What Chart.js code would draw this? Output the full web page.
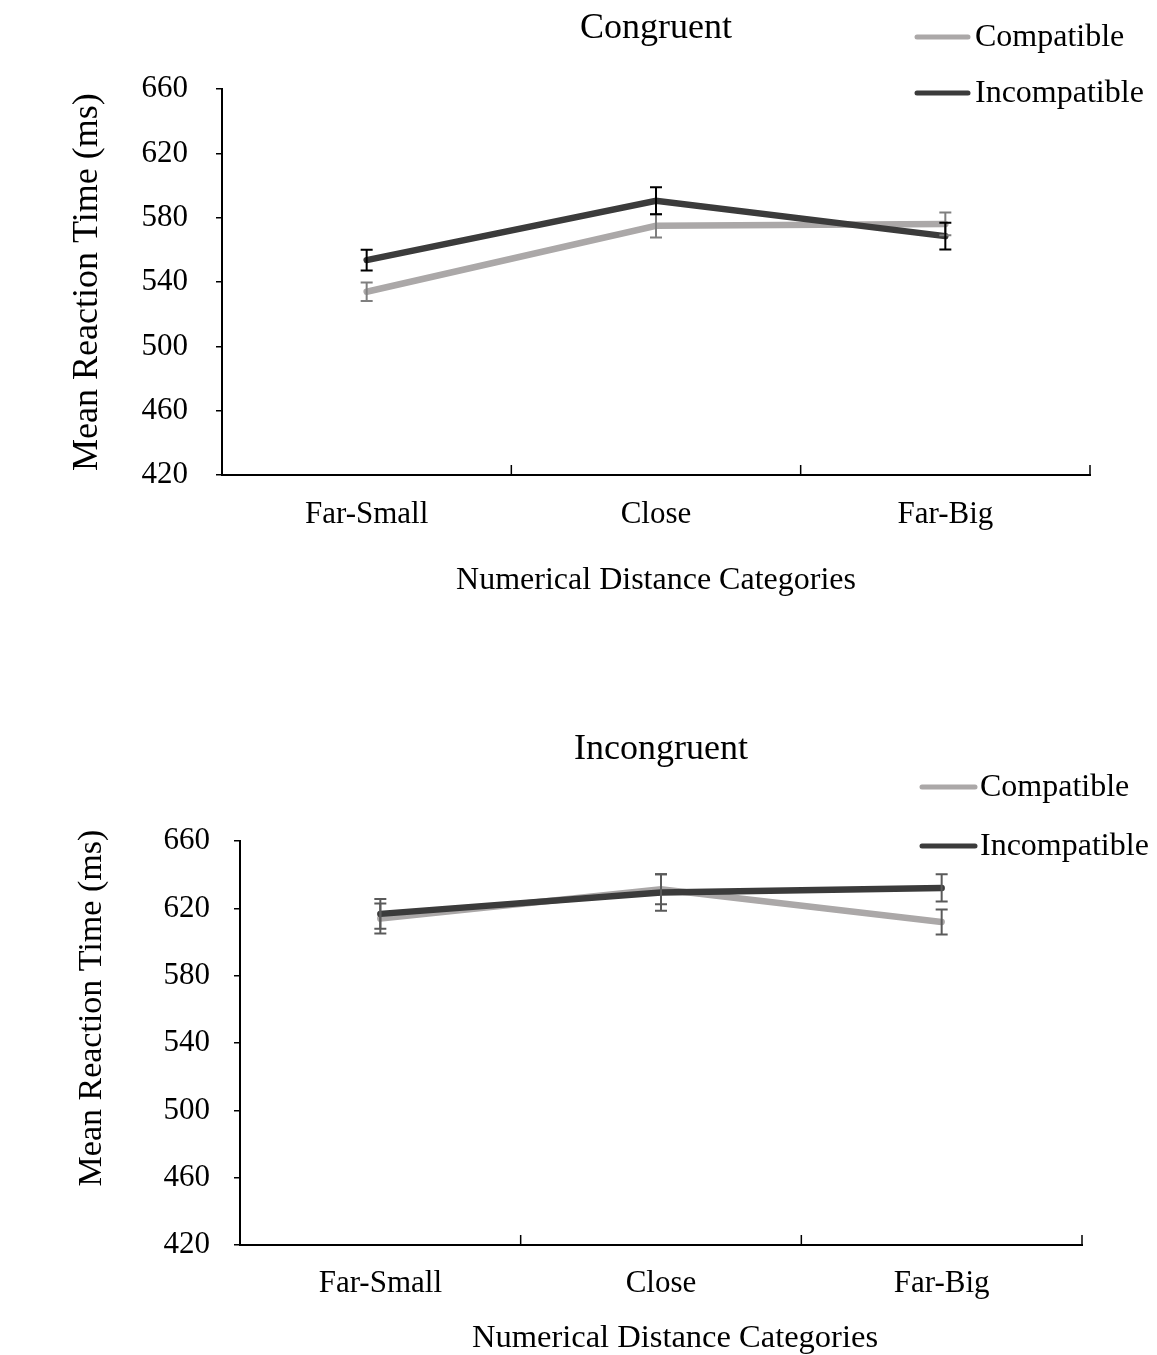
<!DOCTYPE html>
<html>
<head>
<meta charset="utf-8">
<title>Mean Reaction Time by Numerical Distance</title>
<script src="https://cdn.jsdelivr.net/npm/chart.js@4.4.0/dist/chart.umd.min.js"></script>
<style>
  html, body { margin: 0; padding: 0; background: #fff; overflow: hidden; }
  .panel { position: absolute; left: 0; width: 1157px; }
  #congruentPanel { top: 0; height: 610px; }
  #incongruentPanel { top: 700px; height: 657px; }
</style>
</head>
<body>
<div class="panel" id="congruentPanel"><canvas id="congruentChart" width="1157" height="610"></canvas></div>
<div class="panel" id="incongruentPanel"><canvas id="incongruentChart" width="1157" height="657"></canvas></div>
<script>
// Categories and axis ticks shared by both panels
const categories = ['Far-Small', 'Close', 'Far-Big'];
const yTicks = [420, 460, 500, 540, 580, 620, 660];
const seriesNames = ['Compatible', 'Incompatible'];
const xAxisTitle = 'Numerical Distance Categories';
const yAxisTitle = 'Mean Reaction Time (ms)';

// Congruent panel: means and standard errors (ms)
const congruentCompatible = [534, 575, 576.2];
const congruentCompatibleErr = [5.7, 7.2, 7.1];
const congruentIncompatible = [553.7, 590.6, 568.6];
const congruentIncompatibleErr = [6.5, 8.4, 8.3];

// Incongruent panel: means and standard errors (ms)
const incongruentCompatible = [614, 631.5, 612];
const incongruentCompatibleErr = [8.9, 8.9, 7.4];
const incongruentIncompatible = [616.8, 629.5, 632.2];
const incongruentIncompatibleErr = [8.9, 10.9, 8.1];

const FONT = "'Liberation Serif', 'Times New Roman', serif";
const COMPAT_COLOR = '#ABA8A8';
const INCOMPAT_COLOR = '#3B3B3B';

Chart.defaults.font.family = FONT;
Chart.defaults.color = '#000';

// Vertical error bars with caps, drawn through the y scale
const errorBars = {
    id: 'errorBars',
    afterDatasetsDraw(chart) {
        const ctx = chart.ctx;
        const yScale = chart.scales.y;
        chart.data.datasets.forEach((ds, di) => {
            const meta = chart.getDatasetMeta(di);
            ctx.save();
            ctx.strokeStyle = ds.errorColor;
            ctx.lineWidth = 2;
            meta.data.forEach((pt, i) => {
                const v = ds.data[i];
                const e = ds.errors[i];
                const top = yScale.getPixelForValue(v + e);
                const bottom = yScale.getPixelForValue(v - e);
                const x = pt.x;
                ctx.beginPath();
                ctx.moveTo(x, top);
                ctx.lineTo(x, bottom);
                ctx.moveTo(x - 6, top);
                ctx.lineTo(x + 6, top);
                ctx.moveTo(x - 6, bottom);
                ctx.lineTo(x + 6, bottom);
                ctx.stroke();
            });
            ctx.restore();
        });
    }
};

// Short tick marks pointing up into the plot at category boundaries
const innerTicks = {
    id: 'innerTicks',
    afterDraw(chart) {
        const xs = chart.scales.x;
        const ctx = chart.ctx;
        const step = xs.getPixelForValue(1) - xs.getPixelForValue(0);
        ctx.save();
        ctx.strokeStyle = '#000';
        ctx.lineWidth = 1.5;
        ctx.beginPath();
        for (let i = 1; i <= categories.length; i++) {
            const x = xs.getPixelForValue(i) - step / 2;
            ctx.moveTo(x, xs.top);
            ctx.lineTo(x, xs.top - 10);
        }
        ctx.stroke();
        ctx.restore();
    }
};

// Axis titles, placed relative to the chart area centre
const axisTitles = {
    id: 'axisTitles',
    afterDraw(chart, args, opts) {
        const ctx = chart.ctx;
        const area = chart.chartArea;
        ctx.save();
        ctx.fillStyle = '#000';
        ctx.textAlign = 'center';
        ctx.textBaseline = 'middle';

        ctx.font = opts.x.size + 'px ' + FONT;
        ctx.fillText(xAxisTitle, (area.left + area.right) / 2 + opts.x.dx, opts.x.y);

        ctx.translate(opts.y.x, (area.top + area.bottom) / 2 + opts.y.dy);
        ctx.rotate(-Math.PI / 2);
        ctx.font = opts.y.size + 'px ' + FONT;
        ctx.fillText(yAxisTitle, 0, 0);
        ctx.restore();
    }
};

// Legend in the top-right corner
const cornerLegend = {
    id: 'cornerLegend',
    afterDraw(chart, args, opts) {
        const ctx = chart.ctx;
        ctx.save();
        ctx.font = '32px ' + FONT;
        ctx.textBaseline = 'middle';
        ctx.textAlign = 'left';
        chart.data.datasets.forEach((ds, i) => {
            const y = opts.rows[i];
            ctx.strokeStyle = ds.borderColor;
            ctx.lineWidth = 5;
            ctx.lineCap = 'round';
            ctx.beginPath();
            ctx.moveTo(opts.x0, y);
            ctx.lineTo(opts.x1, y);
            ctx.stroke();
            ctx.fillStyle = '#000';
            ctx.fillText(ds.label, opts.textX, y + 1);
        });
        ctx.restore();
    }
};

function makeChart(id, title, compat, compatErr, incompat, incompatErr, cfg) {
    return new Chart(document.getElementById(id), {
        type: 'line',
        data: {
            labels: categories,
            datasets: [{
                label: seriesNames[0],
                data: compat,
                errors: compatErr,
                errorColor: cfg.errColors[0],
                borderColor: COMPAT_COLOR,
                borderWidth: 6.5,
                borderCapStyle: 'round',
                pointRadius: 0,
                tension: 0,
                order: 2
            }, {
                label: seriesNames[1],
                data: incompat,
                errors: incompatErr,
                errorColor: cfg.errColors[1],
                borderColor: INCOMPAT_COLOR,
                borderWidth: 6.5,
                borderCapStyle: 'round',
                pointRadius: 0,
                tension: 0,
                order: 1
            }]
        },
        options: {
            responsive: false,
            animation: false,
            layout: { padding: { left: cfg.padLeft, right: cfg.padRight, top: 0, bottom: cfg.padBottom } },
            scales: {
                x: {
                    offset: true,
                    grid: { display: false, drawTicks: false },
                    border: { display: true, color: '#000', width: 2 },
                    ticks: { font: { size: 31 }, color: '#000', padding: cfg.xPad },
                    afterFit: s => { s.height = cfg.xHeight; }
                },
                y: {
                    min: yTicks[0],
                    max: yTicks[yTicks.length - 1],
                    grid: { display: true, drawOnChartArea: false, drawTicks: true, tickLength: 6, color: '#000', lineWidth: 1.5 },
                    border: { display: true, color: '#000', width: 2 },
                    ticks: { stepSize: yTicks[1] - yTicks[0], font: { size: 31 }, color: '#000', padding: cfg.yPad },
                    afterFit: s => { s.width = cfg.yWidth; }
                }
            },
            plugins: {
                legend: { display: false },
                tooltip: { enabled: false },
                title: {
                    display: true,
                    text: title,
                    fullSize: false,
                    color: '#000',
                    font: { size: 36, weight: 'normal' },
                    padding: cfg.titlePad
                },
                axisTitles: cfg.axisTitles,
                cornerLegend: cfg.legend
            }
        },
        plugins: [errorBars, innerTicks, axisTitles, cornerLegend]
    });
}

makeChart('congruentChart', 'Congruent',
    congruentCompatible, congruentCompatibleErr,
    congruentIncompatible, congruentIncompatibleErr, {
        padLeft: 66, yWidth: 156, yPad: 28, padRight: 67, padBottom: 11,
        xHeight: 124, xPad: 21,
        titlePad: { top: 7, bottom: 39 },
        axisTitles: { x: { size: 32, dx: 0, y: 581 }, y: { size: 36, dy: 0, x: 87.5 } },
        errColors: ['#7F7F7F', '#000000'],
        legend: { x0: 917, x1: 968, textX: 975, rows: [37, 93] }
    });

makeChart('incongruentChart', 'Incongruent',
    incongruentCompatible, incongruentCompatibleErr,
    incongruentIncompatible, incongruentIncompatibleErr, {
        padLeft: 72, yWidth: 168, yPad: 24, padRight: 75, padBottom: 0,
        xHeight: 112, xPad: 20,
        titlePad: { top: 28, bottom: 70 },
        axisTitles: { x: { size: 32.5, dx: 14, y: 638 }, y: { size: 34, dy: -35, x: 92.5 } },
        errColors: ['#5A5A5A', '#5A5A5A'],
        legend: { x0: 922, x1: 975, textX: 980, rows: [87, 146] }
    });
</script>
</body>
</html>
